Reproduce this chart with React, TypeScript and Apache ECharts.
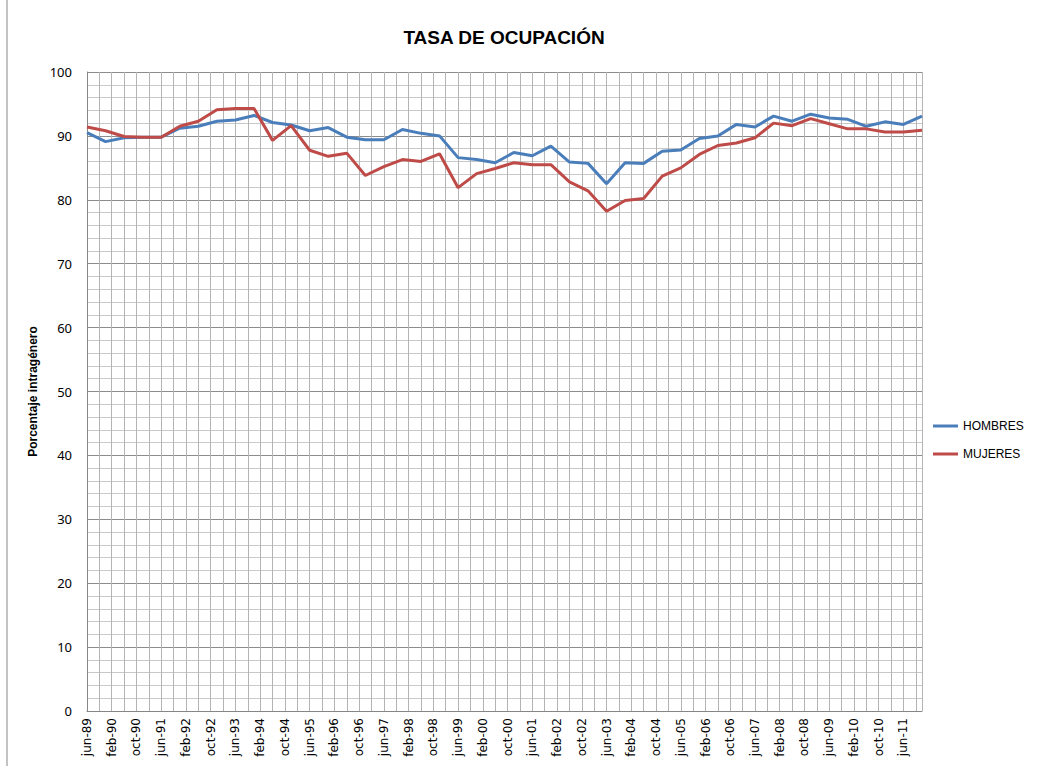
import React, { useEffect, useRef } from "react";
import * as echarts from "echarts";

const periods = [
  "jun-89", "dic-89", "jun-90", "dic-90", "jun-91", "dic-91", "jun-92", "dic-92",
  "jun-93", "dic-93", "jun-94", "dic-94", "jun-95", "dic-95", "jun-96", "dic-96",
  "jun-97", "dic-97", "jun-98", "dic-98", "jun-99", "dic-99", "jun-00", "dic-00",
  "jun-01", "dic-01", "jun-02", "dic-02", "jun-03", "dic-03", "jun-04", "dic-04",
  "jun-05", "dic-05", "jun-06", "dic-06", "jun-07", "dic-07", "jun-08", "dic-08",
  "jun-09", "dic-09", "jun-10", "dic-10", "jun-11", "dic-11",
];

const hombres = [
  90.5, 89.1, 89.7, 89.8, 89.8, 91.2, 91.5, 92.3, 92.5, 93.2, 92.1, 91.7,
  90.8, 91.3, 89.8, 89.4, 89.4, 91.0, 90.4, 90.0, 86.6, 86.3, 85.8, 87.4,
  86.9, 88.4, 85.9, 85.7, 82.5, 85.8, 85.7, 87.6, 87.8, 89.6, 90.0, 91.8,
  91.4, 93.1, 92.3, 93.4, 92.8, 92.6, 91.5, 92.2, 91.8, 93.1,
];

const mujeres = [
  91.4, 90.8, 89.9, 89.8, 89.8, 91.5, 92.3, 94.1, 94.3, 94.3, 89.3, 91.6,
  87.75, 86.8, 87.3, 83.8, 85.2, 86.3, 86.0, 87.2, 81.9, 84.1, 84.9, 85.8,
  85.5, 85.5, 82.8, 81.4, 78.2, 79.9, 80.2, 83.7, 85.0, 87.1, 88.5, 88.9,
  89.7, 92.0, 91.6, 92.7, 91.9, 91.1, 91.1, 90.6, 90.6, 90.9,
];

const tickLabels = [
  "jun-89", "feb-90", "oct-90", "jun-91", "feb-92", "oct-92", "jun-93", "feb-94",
  "oct-94", "jun-95", "feb-96", "oct-96", "jun-97", "feb-98", "oct-98", "jun-99",
  "feb-00", "oct-00", "jun-01", "feb-02", "oct-02", "jun-03", "feb-04", "oct-04",
  "jun-05", "feb-06", "oct-06", "jun-07", "feb-08", "oct-08", "jun-09", "feb-10",
  "oct-10", "jun-11",
];

const monthNames = ["ene", "feb", "mar", "abr", "may", "jun", "jul", "ago", "sep", "oct", "nov", "dic"];

// months elapsed since the first period
function monthIndex(label: string): number {
  const [m, y] = label.split("-");
  const yy = parseInt(y, 10);
  const year = yy > 50 ? 1900 + yy : 2000 + yy;
  return year * 12 + monthNames.indexOf(m);
}
const base = monthIndex(periods[0]);
const xs = periods.map((p) => monthIndex(p) - base);
const xMax = xs[xs.length - 1];

export default function App() {
  const ref = useRef<HTMLDivElement>(null);
  useEffect(() => {
    if (!ref.current) return;
    const chart = echarts.init(ref.current, null, { renderer: "svg" });
    chart.setOption({
      animation: false,
      backgroundColor: "#ffffff",
      graphic: [
        {
          type: "text",
          x: 504,
          y: 37,
          style: {
            text: "TASA DE OCUPACIÓN",
            font: "bold 19px 'Liberation Sans', Arial, sans-serif",
            fill: "#000",
            textAlign: "center",
            textVerticalAlign: "middle",
          },
        },
        {
          type: "line",
          shape: { x1: 7, y1: 0, x2: 7, y2: 766 },
          style: { stroke: "#868686", lineWidth: 1 },
        },
      ],
      legend: {
        orient: "vertical",
        left: 928,
        top: 414,
        itemWidth: 25,
        itemHeight: 3,
        itemGap: 14,
        icon: "rect",
        textStyle: {
          fontFamily: "'Liberation Sans', Arial, sans-serif",
          fontSize: 12,
          lineHeight: 14,
          color: "#000",
        },
        data: ["HOMBRES", "MUJERES"],
      },
      grid: { left: 87, right: 122, top: 72, bottom: 55 },
      xAxis: {
        type: "value",
        min: 0,
        max: xMax,
        interval: 4,
        axisLine: { show: true, onZero: false, lineStyle: { color: "#868686", width: 1 } },
        axisTick: { show: false },
        axisLabel: {
          rotate: 90,
          margin: 7,
          fontFamily: "'DejaVu Sans', Verdana, sans-serif",
          fontSize: 12,
          color: "#000",
          formatter: (v: number) => (v % 8 === 0 && tickLabels[v / 8] ? tickLabels[v / 8] : ""),
        },
        splitLine: { show: true, lineStyle: { color: "#b4b4b4", width: 1 } },
      },
      yAxis: {
        type: "value",
        min: 0,
        max: 100,
        interval: 10,
        name: "Porcentaje intragénero",
        nameLocation: "middle",
        nameGap: 42,
        nameRotate: 90,
        nameTextStyle: {
          fontFamily: "'Liberation Sans', Arial, sans-serif",
          fontWeight: "bold",
          fontSize: 12,
          color: "#000",
        },
        axisLine: { show: true, lineStyle: { color: "#868686", width: 1 } },
        axisTick: { show: false },
        axisLabel: {
          margin: 15,
          fontFamily: "'Noto Sans', sans-serif",
          fontSize: 13,
          color: "#000",
        },
        splitLine: { show: true, lineStyle: { color: "#8c8c8c", width: 1 } },
        minorTick: { show: false, splitNumber: 5 },
        minorSplitLine: { show: true, lineStyle: { color: "#c8c8c8", width: 1 } },
      },
      series: [
        {
          name: "HOMBRES",
          type: "line",
          data: xs.map((x, i) => [x, hombres[i]]),
          showSymbol: false,
          symbol: "none",
          lineStyle: { color: "#4a7ebb", width: 3 },
          itemStyle: { color: "#4a7ebb" },
          z: 3,
        },
        {
          name: "MUJERES",
          type: "line",
          data: xs.map((x, i) => [x, mujeres[i]]),
          showSymbol: false,
          symbol: "none",
          lineStyle: { color: "#be4b48", width: 3 },
          itemStyle: { color: "#be4b48" },
          z: 4,
        },
      ],
    });
    return () => chart.dispose();
  }, []);
  return (
    <div
      ref={ref}
      style={{ position: "fixed", left: 0, top: 0, width: 1044, height: 766 }}
    />
  );
}
